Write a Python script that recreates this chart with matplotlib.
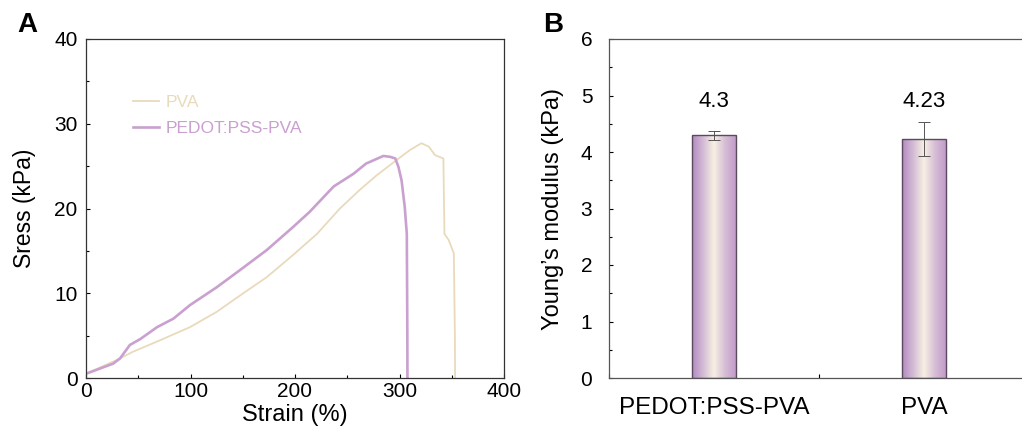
import matplotlib
matplotlib.use("Agg")
import matplotlib.pyplot as plt
import numpy as np
from matplotlib.colors import LinearSegmentedColormap
from matplotlib.ticker import MultipleLocator

plt.rcParams["font.family"] = ["Liberation Sans", "DejaVu Sans"]

# stress-strain curves
pedot_strain = [0, 13, 26, 32.5, 42, 52, 68, 83.6, 99.5, 125, 147, 173, 198, 214,
                237, 256, 268, 284.5, 291, 296, 299, 302, 305, 307, 307.5, 307.6]
pedot_stress = [0.5, 1.1, 1.7, 2.3, 3.9, 4.6, 6.0, 7.0, 8.6, 10.7, 12.7, 15.1, 17.8, 19.6,
                22.6, 24.1, 25.3, 26.2, 26.1, 25.9, 24.9, 23.3, 20.2, 17.0, 5.0, 0]
pva_strain = [0, 29, 45, 68, 99.5, 125, 150.5, 173, 198, 221, 243, 262, 278, 297,
              310, 321, 328, 334, 342, 343, 347, 352, 353, 353.2]
pva_stress = [0.5, 2.1, 3.1, 4.3, 6.0, 7.8, 10.0, 11.9, 14.5, 17.0, 20.0, 22.2, 23.9, 25.7,
              26.9, 27.7, 27.3, 26.3, 25.9, 17.0, 16.3, 14.7, 5.0, 0]

# Young's modulus
samples = ["PEDOT:PSS-PVA", "PVA"]
modulus = [4.3, 4.23]
modulus_err = [0.08, 0.3]
modulus_txt = ["4.3", "4.23"]

fig = plt.figure(figsize=(10.22, 4.3), dpi=100)

# ---- panel A
axA = fig.add_axes([86 / 1022, 52 / 430, 418 / 1022, 339 / 430])
axA.plot(pva_strain, pva_stress, color="#e9dabb", lw=1.3, label="PVA")
axA.plot(pedot_strain, pedot_stress, color="#c9a0cf", lw=1.9, label="PEDOT:PSS-PVA")
axA.set_xlim(0, 400)
axA.set_ylim(0, 40)
axA.xaxis.set_major_locator(MultipleLocator(100))
axA.xaxis.set_minor_locator(MultipleLocator(50))
axA.yaxis.set_major_locator(MultipleLocator(10))
axA.yaxis.set_minor_locator(MultipleLocator(5))
axA.tick_params(which="both", direction="in", labelsize=15, length=3, width=0.8)
axA.tick_params(axis="y", which="both", pad=6)
axA.tick_params(axis="x", which="both", pad=3)
axA.tick_params(which="minor", length=2)
axA.set_xlabel("Strain (%)", fontsize=17, labelpad=2)
axA.set_ylabel("Sress (kPa)", fontsize=16.5, labelpad=13)
for s in axA.spines.values():
    s.set_color("#333333")
    s.set_linewidth(0.9)
leg = axA.legend(loc="upper left", bbox_to_anchor=(0.095, 0.855), frameon=False,
                 fontsize=12.5, handlelength=1.5, handletextpad=0.4, labelspacing=0.6,
                 borderaxespad=0)
for t, l in zip(leg.get_texts(), leg.get_lines()):
    t.set_color(l.get_color())
fig.text(17 / 1022, 1 - 25 / 430, "A", fontsize=20, fontweight="bold", va="center", ha="left")

# ---- panel B
axB = fig.add_axes([609 / 1022, 52 / 430, 420 / 1022, 339 / 430])
xpos = np.arange(1, len(samples) + 1)
bars = axB.bar(xpos, modulus, width=0.205, facecolor="none", edgecolor="#5b4a5e",
               linewidth=1.0, yerr=modulus_err,
               error_kw=dict(ecolor="#555555", elinewidth=0.7, capsize=4, capthick=0.7),
               zorder=3)
cmap = LinearSegmentedColormap.from_list(
    "grad", ["#b28ac1", "#d3bad5", "#f7f0e2", "#d6bed6", "#c29bca"])
grad = np.linspace(0, 1, 256).reshape(1, -1)
for b in bars:
    x0, y0 = b.get_x(), b.get_y()
    im = axB.imshow(grad, cmap=cmap, aspect="auto", zorder=2,
                    extent=[x0, x0 + b.get_width(), y0, y0 + b.get_height()])
    im.set_clip_path(b)
for x, v, t in zip(xpos, modulus, modulus_txt):
    axB.text(x, 4.9, t, ha="center", va="center", fontsize=16)
axB.set_xlim(0.5, 2.5)
axB.set_ylim(0, 6)
axB.set_xticks(xpos)
axB.set_xticklabels(samples)
axB.xaxis.set_minor_locator(MultipleLocator(0.5))
axB.yaxis.set_major_locator(MultipleLocator(1))
axB.yaxis.set_minor_locator(MultipleLocator(0.5))
axB.tick_params(axis="y", which="both", direction="in", labelsize=15, length=3, width=0.8, pad=12)
axB.tick_params(axis="y", which="minor", length=2)
axB.tick_params(axis="x", which="both", direction="in", labelsize=17.5, length=3, width=0.8, pad=14)
axB.set_ylabel("Young\u2019s modulus (kPa)", fontsize=17, labelpad=12)
for s in axB.spines.values():
    s.set_color("#555555")
    s.set_linewidth(0.9)
fig.text(543 / 1022, 1 - 25 / 430, "B", fontsize=20, fontweight="bold", va="center", ha="left")

fig.savefig("out.png", dpi=100)
